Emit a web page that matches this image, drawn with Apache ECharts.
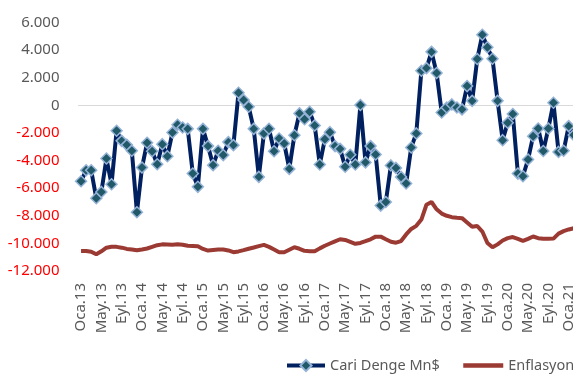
<!DOCTYPE html>
<html>
<head>
<meta charset="utf-8">
<script src="https://cdn.jsdelivr.net/npm/echarts@6/dist/echarts.min.js"></script>
<style>
  html, body { margin: 0; padding: 0; background: #ffffff; overflow: hidden; }
  #chart { width: 580px; height: 376px; }
</style>
</head>
<body>
<div id="chart"></div>
<script>
// Monthly current account balance (million $) and inflation trace, Jan 2013 – Feb 2021
const aylar = ['Oca', 'Şub', 'Mar', 'Nis', 'May', 'Haz', 'Tem', 'Ağu', 'Eyl', 'Eki', 'Kas', 'Ara'];
const yillar = ['13', '14', '15', '16', '17', '18', '19', '20', '21'];
const sonAySayisi = 2; // months available in the last year

const cariDenge = [
  -5500, -4700, -4700, -6730, -6270, -3850, -5710, -1840, -2570, -2860, -3290, -7740,
  -4500, -2710, -3320, -4260, -2810, -3680, -1960, -1400, -1600, -1700, -4940, -5900,
  -1700, -2950, -4330, -3290, -3600, -2660, -2880, 915, 385, -100, -1700, -5180,
  -2030, -1690, -3320, -2400, -2760, -4600, -2160, -580, -1000, -460, -1450, -4280,
  -2450, -1940, -2950, -3150, -4450, -3580, -4280, 30, -4130, -2950, -3560, -7260,
  -7000, -4350, -4530, -5180, -5660, -3050, -2030, 2510, 2700, 3880, 2350, -510,
  -150, 70, -150, -290, 1400, 330, 3360, 5120, 4210, 3380, 330, -2520,
  -1260, -630, -4940, -5130, -3920, -2230, -1670, -3300, -1670, 190, -3370, -3290,
  -1500, -2150
];

const enflasyon = [
  -10550, -10550, -10600, -10790, -10570, -10310, -10240, -10250, -10310, -10400, -10440, -10500,
  -10440, -10370, -10250, -10130, -10070, -10080, -10090, -10070, -10100, -10170, -10190, -10210,
  -10400, -10520, -10480, -10440, -10440, -10510, -10640, -10580, -10490, -10390, -10300, -10200,
  -10110, -10250, -10440, -10640, -10640, -10460, -10280, -10390, -10540, -10560, -10570, -10360,
  -10170, -10010, -9850, -9700, -9750, -9890, -10030, -9970, -9840, -9700, -9510, -9510,
  -9700, -9880, -9950, -9830, -9350, -8950, -8730, -8270, -7200, -7000, -7530, -7840,
  -8000, -8100, -8140, -8170, -8480, -8800, -8740, -9140, -9970, -10280, -10070, -9790,
  -9620, -9540, -9670, -9820, -9670, -9500, -9620, -9660, -9660, -9650, -9290, -9110,
  -8990, -8900
];

const yEksen = { min: -12000, max: 6000, interval: 2000 };

// Category labels such as "Oca.13"
const kategoriler = [];
yillar.forEach((y, yi) => {
  const n = yi === yillar.length - 1 ? sonAySayisi : 12;
  for (let m = 0; m < n; m++) kategoriler.push(aylar[m] + '.' + y);
});

const binlik = v => {
  const s = Math.abs(v).toString().replace(/\B(?=(\d{3})+(?!\d))/g, '.');
  return (v < 0 ? '-' : '') + s;
};

const FONT = '"Noto Sans", "Open Sans", sans-serif';
const GRI = '#595959';
const LACIVERT = '#002060';
const KIRMIZI = '#9B3A33';

const legendYazi = { fontFamily: FONT, fontSize: 14.5, color: GRI };

const chart = echarts.init(document.getElementById('chart'), null, { renderer: 'canvas' });
chart.setOption({
  animation: false,
  backgroundColor: '#ffffff',
  textStyle: { fontFamily: FONT },
  grid: { left: 78.5, right: 3.7, top: 22.6, bottom: 105 },
  legend: [
    {
      left: 285, top: 358, padding: 0,
      itemWidth: 38, itemHeight: 14,
      textStyle: legendYazi,
      data: [{ name: 'Cari Denge Mn$', lineStyle: { width: 4 } }]
    },
    {
      left: 461, top: 358, padding: 0,
      itemWidth: 40, itemHeight: 14,
      textStyle: legendYazi,
      data: [{ name: 'Enflasyon', itemStyle: { opacity: 0 }, lineStyle: { width: 4.5 } }]
    }
  ],
  xAxis: [
    {
      type: 'category',
      data: kategoriler,
      boundaryGap: true,
      axisLine: { show: false, onZero: false },
      axisTick: { show: false },
      axisLabel: {
        interval: 3,
        rotate: 90,
        margin: 12,
        color: GRI,
        fontFamily: FONT,
        fontSize: 15
      },
      splitLine: { show: false }
    },
    {
      // horizontal axis line drawn through zero
      type: 'category',
      data: kategoriler,
      boundaryGap: true,
      position: 'bottom',
      axisLine: { show: true, onZero: true, lineStyle: { color: '#D9D9D9', width: 1 } },
      axisTick: { show: false },
      axisLabel: { show: false },
      splitLine: { show: false }
    }
  ],
  yAxis: {
    type: 'value',
    min: yEksen.min,
    max: yEksen.max,
    interval: yEksen.interval,
    axisLine: { show: false },
    axisTick: { show: false },
    splitLine: { show: false },
    axisLabel: {
      margin: 19,
      fontFamily: FONT,
      fontSize: 15,
      formatter: v => binlik(v),
      color: v => (Number(v) < 0 ? '#FF0000' : GRI)
    }
  },
  series: [
    {
      name: 'Enflasyon',
      type: 'line',
      xAxisIndex: 0,
      data: enflasyon,
      showSymbol: false,
      symbol: 'none',
      lineStyle: { color: KIRMIZI, width: 4 },
      itemStyle: { color: KIRMIZI },
      z: 2
    },
    {
      name: 'Cari Denge Mn$',
      type: 'line',
      xAxisIndex: 0,
      data: cariDenge,
      symbol: 'diamond',
      symbolSize: 11,
      showAllSymbol: true,
      lineStyle: { color: LACIVERT, width: 4 },
      itemStyle: { color: '#215968', borderColor: '#95B3D7', borderWidth: 1.5 },
      z: 3
    }
  ]
});
</script>
</body>
</html>
